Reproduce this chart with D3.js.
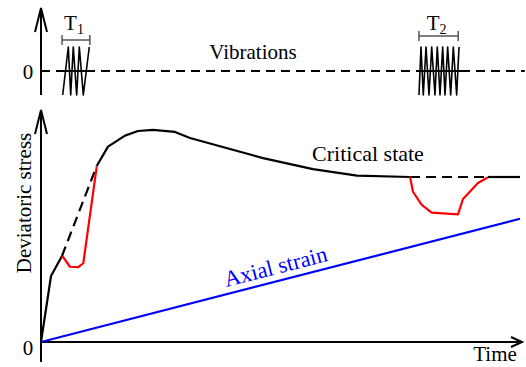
<!DOCTYPE html>
<html><head><meta charset="utf-8">
<script src="https://cdn.jsdelivr.net/npm/d3@7"></script>
<style>
body{margin:0;background:#fff}
svg{display:block}
</style>
</head><body><script>
const W = 526, H = 367;
const SERIF = "'Liberation Serif', 'Times New Roman', serif";

// Normalised time (0–100) and deviatoric stress (0–100)
const loadTime    = [0, 2.09, 4.38];
const loadStress  = [0, 30.0, 39.1];
const extrapTime  = [4.38, 11.63];
const extrapStress= [39.1, 80.0];
const drop1Time   = [4.45, 6.05, 7.79, 8.83, 11.63];
const drop1Stress = [39.1, 34.2, 34.0, 35.8, 79.7];
const peakTime    = [11.63, 13.99, 17.54, 20.25, 23.38, 27.97, 31.11, 41.55, 46.35, 56.78, 65.97, 77.04];
const peakStress  = [80.0, 88.8, 93.8, 95.9, 96.4, 95.5, 92.7, 86.5, 83.6, 78.6, 75.6, 75.0];
const csDashTime  = [77.04, 93.32];
const csEndTime   = [93.32, 100];
const csStress    = 75.0;
const drop2Time   = [77.04, 77.66, 79.48, 81.57, 87.06, 88.1, 91.23, 93.32];
const drop2Stress = [75.1, 68.3, 62.3, 58.8, 58.0, 65.0, 72.3, 74.9];
const strainTime  = [0, 100];
const strainValue = [0, 56];

// Vibration bursts (time, normalised amplitude)
const baseTime   = [0, 101];
const burst1Time = [4.53, 5.70, 6.20, 6.74, 7.45, 8.00, 8.83, 10.08];
const burst1Amp  = [-1, 1, -1, 1, -1, 1, -1, 1];
const burst2Time = [78.91, 79.33, 79.81, 80.38, 81.0, 81.57, 82.25, 82.73, 83.3, 83.86, 84.34, 84.9, 85.53, 86.08, 86.78, 87.27];
const burst2Amp  = [-1, 1, -1, 1, -1, 1, -1, 1, -1, 1, -1, 1, -1, 1, -1, 1];
const periodLabels = ["1", "2"];
const periodSpan = [[4.4, 10.2], [78.9, 87.1]];

const svg = d3.select("body").append("svg").attr("width", W).attr("height", H);

const x  = d3.scaleLinear().domain([0, 100]).range([41, 520]);
const y  = d3.scaleLinear().domain([0, 100]).range([342, 122]);
const yv = d3.scaleLinear().domain([-1, 1]).range([95, 47]);

const zip = (a, b) => a.map((v, i) => [v, Array.isArray(b) ? b[i] : b]);
const line  = d3.line().x(d => x(d[0])).y(d => y(d[1]));
const vline = d3.line().x(d => x(d[0])).y(d => yv(d[1]));

function draw(g, gen, pts, color, width, dash) {
  g.append("path").attr("d", gen(pts)).attr("fill", "none")
    .attr("stroke", color).attr("stroke-width", width)
    .attr("stroke-linejoin", "round")
    .attr("stroke-dasharray", dash || null);
}
function label(g, txt, size) {
  return g.append("text").attr("font-family", SERIF).attr("font-size", size)
    .attr("fill", "#000").text(txt);
}

// ---- upper panel: vibration input ----
const vib = svg.append("g");
draw(vib, vline, zip(baseTime, 0), "#000", 2, "9,6");
vib.append("line").attr("x1", x(burst1Time[0]) - 1).attr("x2", x(burst1Time[burst1Time.length - 1]) + 5)
  .attr("y1", yv(0)).attr("y2", yv(0)).attr("stroke", "#000").attr("stroke-width", 2);
vib.append("line").attr("x1", x(burst2Time[0]) - 3).attr("x2", x(burst2Time[burst2Time.length - 1]) + 4)
  .attr("y1", yv(0)).attr("y2", yv(0)).attr("stroke", "#000").attr("stroke-width", 2);
draw(vib, vline, zip(burst1Time, burst1Amp), "#000", 1.6);
draw(vib, vline, zip(burst2Time, burst2Amp), "#000", 1.6);

const bracketY = [40, 36];
periodSpan.forEach((s, i) => {
  const x0 = x(s[0]), x1 = x(s[1]), by = bracketY[i];
  vib.append("path")
    .attr("d", `M${x0},${by - 5}V${by + 5}M${x0},${by}H${x1}M${x1},${by - 5}V${by + 5}`)
    .attr("stroke", "#555").attr("stroke-width", 1.5).attr("fill", "none");
  const t = label(vib, null, 21).attr("x", (x0 + x1) / 2 - 2).attr("y", 30)
    .attr("text-anchor", "middle");
  t.append("tspan").text("T");
  t.append("tspan").attr("font-size", 14).attr("dy", 4).text(periodLabels[i]);
});

label(vib, "Vibrations", 21).attr("x", 253).attr("y", 59).attr("text-anchor", "middle");
label(vib, "0", 21).attr("x", 28).attr("y", 79).attr("text-anchor", "middle");

// upper vertical axis
vib.append("line").attr("x1", 41).attr("x2", 41).attr("y1", 95).attr("y2", 8)
  .attr("stroke", "#000").attr("stroke-width", 2);
vib.append("path").attr("d", "M35,32L41,8L47,32").attr("fill", "none")
  .attr("stroke", "#000").attr("stroke-width", 2);

// ---- lower panel: stress and strain history ----
const main = svg.append("g");
main.append("line").attr("x1", 41).attr("x2", 41).attr("y1", 362).attr("y2", 110)
  .attr("stroke", "#000").attr("stroke-width", 2);
main.append("path").attr("d", "M35,134L41,110L47,134").attr("fill", "none")
  .attr("stroke", "#000").attr("stroke-width", 2);
main.append("line").attr("x1", 40).attr("x2", 522).attr("y1", y(0)).attr("y2", y(0))
  .attr("stroke", "#000").attr("stroke-width", 2);
main.append("path").attr("d", `M511,${y(0) - 5}L522,${y(0)}L511,${y(0) + 5}`).attr("fill", "none")
  .attr("stroke", "#000").attr("stroke-width", 2);

draw(main, line, zip(strainTime, strainValue), "#0000ff", 2.2);
draw(main, line, zip(loadTime, loadStress), "#000", 2.2);
draw(main, line, zip(extrapTime, extrapStress), "#000", 2.2, "10,6");
draw(main, line, zip(peakTime, peakStress), "#000", 2.2);
draw(main, line, zip(csDashTime, csStress), "#000", 2.2, "10,6");
draw(main, line, zip(csEndTime, csStress), "#000", 2.2);
draw(main, line, zip(drop1Time, drop1Stress), "#ff0000", 2.2);
draw(main, line, zip(drop2Time, drop2Stress), "#ff0000", 2.2);

// labels
label(main, "0", 21).attr("x", 28).attr("y", 355).attr("text-anchor", "middle");
label(main, "Time", 21).attr("x", 495).attr("y", 361).attr("text-anchor", "middle");
label(main, "Critical state", 22).attr("x", 368).attr("y", 161).attr("text-anchor", "middle");
label(main, "Deviatoric stress", 21).attr("transform", "translate(31,203) rotate(-90)")
  .attr("text-anchor", "middle");

const ang = Math.atan2(y(strainValue[1]) - y(strainValue[0]), x(strainTime[1]) - x(strainTime[0])) * 180 / Math.PI;
const tStart = x.invert(228);
const sStart = strainValue[1] * tStart / strainTime[1];
label(main, "Axial strain", 22.5)
  .attr("transform", `translate(${x(tStart)},${y(sStart)}) rotate(${ang})`)
  .attr("x", 0).attr("y", -7).attr("fill", "#0000ff");
</script></body></html>
